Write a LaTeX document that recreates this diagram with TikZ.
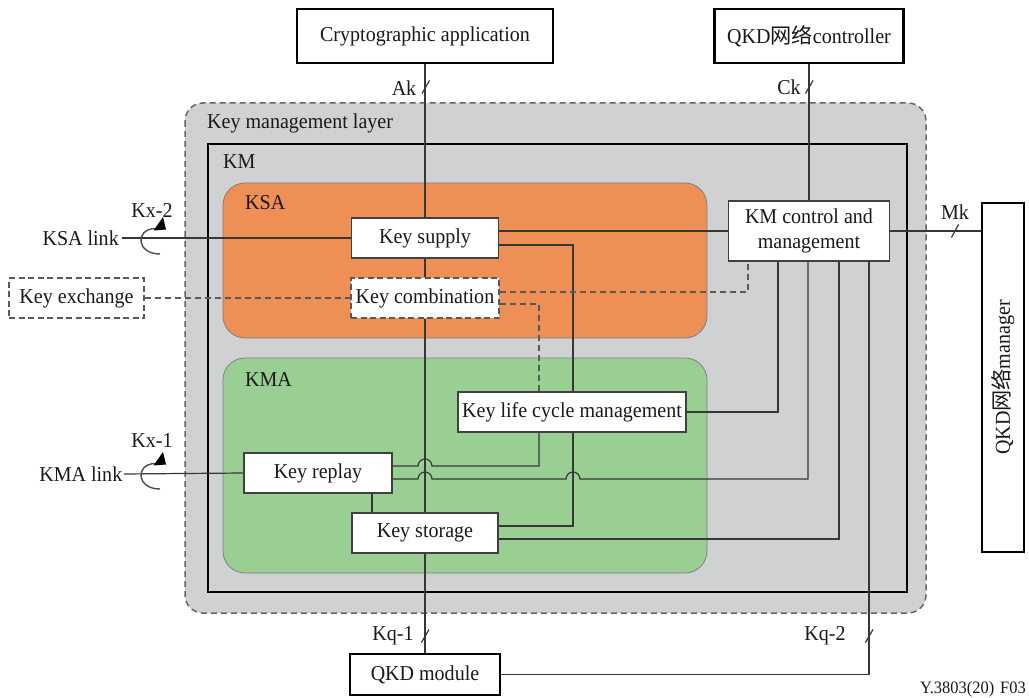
\documentclass[tikz,border=0pt]{standalone}
\usepackage{fontspec}
\setmainfont[FakeStretch=0.945]{Liberation Serif}
\newfontfamily\cjk{Noto Sans CJK SC}
\usetikzlibrary{arrows.meta,calc}
\definecolor{panelgray}{RGB}{208,209,211}
\definecolor{ksaorange}{RGB}{238,143,86}
\definecolor{kmagreen}{RGB}{153,207,147}
\definecolor{wirecol}{RGB}{55,55,55}
\pgfdeclarelayer{panels}
\pgfdeclarelayer{wires}
\pgfsetlayers{panels,wires,main}

\begin{document}
\begin{tikzpicture}[x=1pt,y=-1pt,
  every node/.style={font=\fontsize{21.2}{25}\selectfont, inner sep=0pt, text=black!90},
  ext/.style={draw=black, line width=2.6pt, fill=white},
  blk/.style={draw=black!75, line width=1.3pt, fill=white},
  dbox/.style={draw=black!65, line width=1.6pt, dash pattern=on 6pt off 3.5pt, fill=white},
  wire/.style={draw=wirecol, line width=1.2pt},
  dwire/.style={draw=black!65, line width=1.5pt, dash pattern=on 6pt off 4pt},
  tickmark/.style={draw=wirecol, line width=1.2pt},
  paneltitle/.style={anchor=west}
]
\useasboundingbox (0,0) rectangle (1029,698);

% ---------- containers ----------
\begin{pgfonlayer}{panels}
  \fill[panelgray, rounded corners=18] (185,103) rectangle (926,613);
  \draw[black!60, line width=1.5pt, dash pattern=on 6pt off 4pt, rounded corners=18] (185,103) rectangle (926,613);
  \draw[black, line width=2.6pt] (208,144) rectangle (907,592);
  \draw[fill=ksaorange, draw=black!50, line width=0.8pt, rounded corners=22] (223,183) rectangle (707,338);
  \draw[fill=kmagreen, draw=black!50, line width=0.8pt, rounded corners=22] (223,358) rectangle (707,573);
\end{pgfonlayer}

\node[paneltitle] (kmltitle) at (207,123) {Key management layer};
\node[paneltitle] (kmtitle) at (223,162) {KM};
\node[paneltitle] (ksatitle) at (245,203) {KSA};
\node[paneltitle] (kmatitle) at (245,380) {KMA};

% ---------- external entities ----------
\node[ext, minimum width=256, minimum height=54] (app) at (425,36) {Cryptographic application};
\node[ext, minimum width=189, minimum height=54] (ctrl) at (809,36) {QKD{\cjk 网络}controller};
\node[ext, minimum width=150, minimum height=41] (qkdm) at (425,674.5) {QKD module};
\node[ext, rotate=90, minimum width=349, minimum height=42] (qmgr) at (1003,377.5) {QKD{\cjk 网络}manager};
\node[dbox, minimum width=135, minimum height=40] (kx) at (76.5,298) {Key exchange};
\node[anchor=east, inner xsep=3pt] (ksal) at (122,238) {KSA link};
\node[anchor=east, inner xsep=1.5pt] (kmal) at (124,474) {KMA link};

% ---------- KM functions ----------
\node[blk, minimum width=161, minimum height=60] (kmc) at (809,231)
  {\raisebox{-3.5pt}{\begin{tabular}{@{}c@{}}KM control and\\management\end{tabular}}};
\node[blk, minimum width=147, minimum height=40] (ks) at (425,238) {Key supply};
\node[dbox, minimum width=148, minimum height=40] (kc) at (425,298) {Key combination};
\node[blk, minimum width=228, minimum height=40] (klcm) at (572,412) {Key life cycle management};
\node[blk, minimum width=148, minimum height=40] (kr) at (318,473) {Key replay};
\node[blk, minimum width=146, minimum height=40] (kst) at (425,533) {Key storage};

% ---------- interface labels ----------
\node (ak) at (404,88) {Ak};
\node (ck) at (789,87) {Ck};
\node (mk) at (955,212) {Mk};
\node (kq1) at (393,636) {Kq-1};
\node (kq2) at (825,636) {Kq-2};
\node (kx2) at (152,210) {Kx-2};
\node (kx1) at (152,441) {Kx-1};
\node[anchor=base east, font=\fontsize{17.4}{19}\selectfont] (figid) at (1026,693) {Y.3803(20)\hspace{6pt}F03};

% ---------- connections ----------
\begin{pgfonlayer}{wires}
  \draw[wire] (app.south) -- (ks.north);
  \draw[wire] (ks.south) -- (kc.north);
  \draw[wire] (kc.south) -- (kst.north);
  \draw[wire] (kst.south) -- (qkdm.north);
  \draw[wire] (ctrl.south) -- (kmc.north);
  \draw[wire] ([yshift=7pt]ks.east) -- (kmc.west);
  \draw[wire] ([yshift=-7pt]ks.east) -- (573,245) -- (573,526) -- ([yshift=7pt]kst.east);
  \draw[dwire] ([yshift=6pt]kc.east) -- (748,292) -- (748,261);
  \draw[dwire] ([yshift=-6pt]kc.east) -- (539,304) -- (539,392);
  \draw[wire] (klcm.east) -- (778,412) -- (778,261);
  \draw[wire] ([yshift=7pt]kr.east) -- (418,466) arc[start angle=180, end angle=360, radius=7] -- (539,466) -- (539,432);
  \draw[wire] ([yshift=-6pt]kr.east) -- (418,479) arc[start angle=180, end angle=360, radius=7]
        -- (566,479) arc[start angle=180, end angle=360, radius=7] -- (808,479) -- (808,261);
  \draw[wire] ([yshift=-6pt]kst.east) -- (839,539) -- (839,261);
  \draw[wire] (869,261) -- (869,674.5) -- (qkdm.east);
  \draw[wire] (kmc.east) -- (qmgr.west |- kmc.east);
  \draw[wire] ([xshift=54pt]kr.south) -- ([xshift=54pt]kr.south |- kst.north);
  \draw[wire] (ksal.east) -- (ks.west);
  \draw[wire] (kmal.east) -- (kr.west);
  \draw[dwire] (kx.east) -- (kc.west);
\end{pgfonlayer}

% ---------- interface ticks ----------
\draw[tickmark] (422,93.5) -- (429.5,80.5);
\draw[tickmark] (805.5,93.5) -- (813,80.5);
\draw[tickmark] (421.5,642.5) -- (429,629.5);
\draw[tickmark] (865.5,642.5) -- (873,629.5);
\draw[tickmark] (951.5,237.5) -- (958.5,224.5);

% ---------- rotation symbols on the inter-KM links ----------
\foreach \cy in {238,473}{
  \draw[black!70, line width=1.4pt] (160,\cy+16) .. controls (136,\cy+16) and (135,\cy-9) .. (155,\cy-9.5);
  \fill[black] (153.5,\cy-7.5) -- (166,\cy-8.5) -- (163,\cy-21) -- cycle;
}
\end{tikzpicture}
\end{document}
